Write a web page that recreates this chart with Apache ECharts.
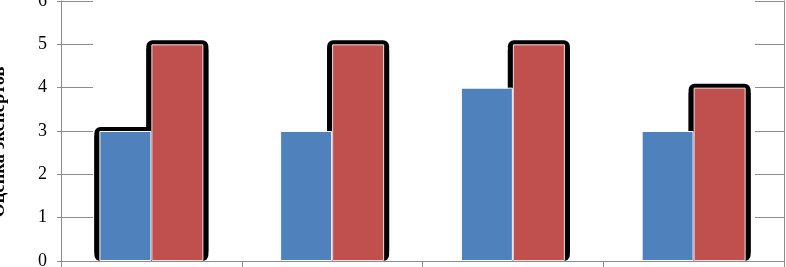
<!DOCTYPE html>
<html>
<head>
<meta charset="utf-8">
<script src="https://cdn.jsdelivr.net/npm/echarts@6/dist/echarts.min.js"></script>
<style>html,body{margin:0;padding:0;background:#fff}#c{width:786px;height:267px}</style>
</head>
<body>
<div id="c"></div>
<script>
const categories = ['1', '2', '3', '4'];
const seriesBlue = [3, 3, 4, 3];
const seriesRed = [5, 5, 5, 4];
const blueOutlined = [3, '-', '-', '-'];
const yTicks = [0, 1, 2, 3, 4, 5, 6];
const axisName = 'Оценка экспертов';

const gridColor = '#8c8c8c';
const font = 'Liberation Serif';

const chart = echarts.init(document.getElementById('c'), null, {renderer: 'canvas'});
const outlineStyle = {color: '#000', borderRadius: 6, shadowColor: '#000', shadowBlur: 0, shadowOffsetX: 0, shadowOffsetY: -4};
chart.setOption({
  animation: false,
  backgroundColor: '#fff',
  grid: {left: 61, right: 2, top: 1, bottom: 6, containLabel: false, outerBoundsMode: 'none'},
  xAxis: [
    {type: 'category', data: categories, position: 'bottom',
     axisLine: {lineStyle: {color: gridColor, width: 1}},
     axisTick: {show: true, length: 5, lineStyle: {color: gridColor}},
     axisLabel: {show: false}, splitLine: {show: false}},
    {type: 'category', data: categories, position: 'top',
     axisLine: {lineStyle: {color: gridColor, width: 1}},
     axisTick: {show: true, inside: true, length: 38, lineStyle: {color: gridColor}},
     axisLabel: {show: false}, splitLine: {show: false}}
  ],
  yAxis: [
    {type: 'value', min: 0, max: 6, interval: 1, position: 'left',
     name: axisName, nameLocation: 'middle', nameGap: 52, nameRotate: 90,
     nameTextStyle: {fontFamily: font, fontWeight: 'bold', fontSize: 18.5, color: '#000', padding: [0, 0, 0, -22]},
     axisLine: {show: true, lineStyle: {color: gridColor}},
     axisTick: {show: true, length: 4, lineStyle: {color: gridColor}},
     axisLabel: {margin: 14, fontFamily: font, fontSize: 18, color: '#000',
                 formatter: v => yTicks.indexOf(v) >= 0 ? String(v) : ''},
     splitLine: {show: false}},
    {type: 'value', min: 0, max: 6, interval: 1, position: 'left',
     axisLine: {show: false},
     axisTick: {show: true, inside: true, length: 32, lineStyle: {color: gridColor}},
     axisLabel: {show: false}, splitLine: {show: false}},
    {type: 'value', min: 0, max: 6, interval: 1, position: 'right',
     axisLine: {show: true, lineStyle: {color: gridColor}},
     axisTick: {show: true, inside: true, length: 29, lineStyle: {color: gridColor}},
     axisLabel: {show: false}, splitLine: {show: false}}
  ],
  series: [
    {type: 'bar', xAxisIndex: 0, yAxisIndex: 0, data: seriesBlue, barWidth: 52, barGap: '0%', z: 3,
     itemStyle: {color: '#4F81BD', borderColor: '#ffffff', borderWidth: 1}},
    {type: 'bar', xAxisIndex: 0, yAxisIndex: 0, data: seriesRed, barWidth: 52, barGap: '0%', z: 4,
     itemStyle: {color: '#C0504D', borderColor: '#f4dede', borderWidth: 1}},
    {type: 'bar', xAxisIndex: 1, yAxisIndex: 0, data: blueOutlined, barWidth: 62, barGap: '-16.13%', z: 1,
     itemStyle: outlineStyle},
    {type: 'bar', xAxisIndex: 1, yAxisIndex: 0, data: seriesRed, barWidth: 62, barGap: '-16.13%', z: 1,
     itemStyle: outlineStyle}
  ]
});
</script>
</body>
</html>
